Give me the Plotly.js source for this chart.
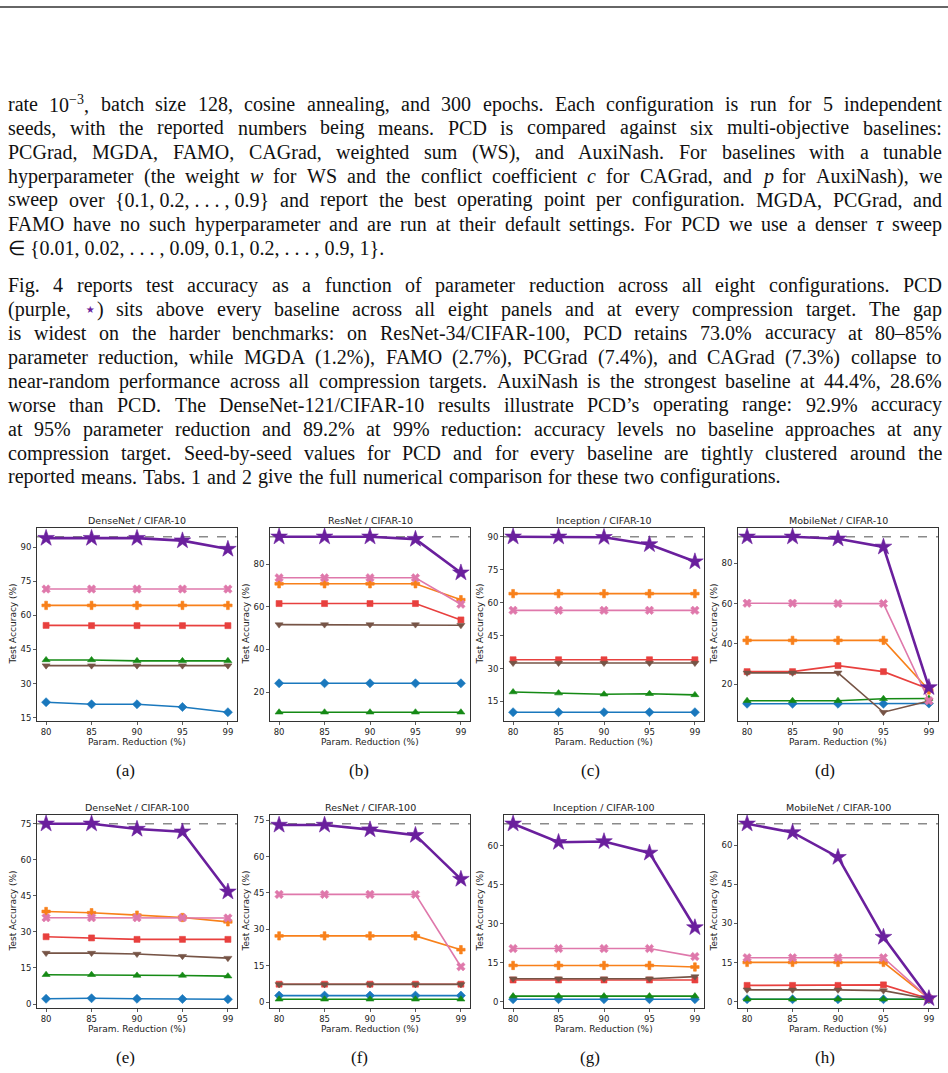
<!DOCTYPE html>
<html><head><meta charset="utf-8">
<script src="https://cdn.plot.ly/plotly-3.0.1.min.js"></script>
<style>body{margin:0;background:#fff}#chart{width:948px;height:1073px}</style>
</head><body><div id="chart"></div>
<script>
// ---------------- DATA ----------------
const xTicks = ['80', '85', '90', '95', '99'];
const panelTitles = ['DenseNet / CIFAR-10', 'ResNet / CIFAR-10', 'Inception / CIFAR-10', 'MobileNet / CIFAR-10',
                     'DenseNet / CIFAR-100', 'ResNet / CIFAR-100', 'Inception / CIFAR-100', 'MobileNet / CIFAR-100'];
const panelLetters = ['(a)', '(b)', '(c)', '(d)', '(e)', '(f)', '(g)', '(h)'];
const yTickStep = [15, 20, 15, 20, 15, 15, 15, 15];
const xTitle = 'Param. Reduction (%)';
const yTitle = 'Test Accuracy (%)';

// one row per panel (a..h), one value per parameter reduction
const FAMO = [
  [21.8, 20.9, 20.9, 19.7, 17.4],
  [24.1, 24.1, 24.1, 24.1, 24.1],
  [10.1, 10.1, 10.1, 10.1, 10.1],
  [10.4, 10.4, 10.4, 10.4, 10.5],
  [2.2, 2.4, 2.2, 2.1, 2.0],
  [2.7, 2.7, 2.7, 2.7, 2.7],
  [1.0, 1.0, 1.0, 1.0, 1.0],
  [1.0, 1.0, 1.0, 1.0, 1.0]
];
const MGDA = [
  [40.4, 40.4, 40.0, 40.0, 40.0],
  [10.5, 10.5, 10.5, 10.5, 10.5],
  [19.3, 18.8, 18.3, 18.5, 18.0],
  [11.9, 11.9, 11.9, 12.9, 13.0],
  [12.2, 12.2, 11.9, 11.9, 11.6],
  [1.2, 1.2, 1.2, 1.2, 1.2],
  [2.2, 2.2, 2.2, 2.2, 2.2],
  [1.0, 1.0, 1.0, 1.0, 1.0]
];
const PCGrad = [
  [55.6, 55.5, 55.5, 55.5, 55.5],
  [61.6, 61.6, 61.6, 61.6, 53.9],
  [34.0, 34.0, 34.0, 34.0, 34.0],
  [26.3, 26.3, 29.3, 26.3, 17.7],
  [28.0, 27.5, 26.9, 26.9, 26.9],
  [7.4, 7.4, 7.4, 7.4, 7.4],
  [8.4, 8.4, 8.4, 8.4, 8.4],
  [6.3, 6.3, 6.3, 6.5, 1.2]
];
const CAGrad = [
  [37.9, 37.9, 37.9, 37.9, 37.9],
  [51.7, 51.7, 51.7, 51.7, 51.4],
  [32.5, 32.5, 32.5, 32.5, 32.5],
  [25.7, 25.7, 25.7, 6.2, 11.8],
  [21.2, 21.2, 20.8, 19.9, 19.1],
  [7.3, 7.3, 7.3, 7.3, 7.3],
  [8.9, 8.9, 8.9, 8.9, 9.7],
  [4.6, 4.6, 4.6, 4.3, 1.1]
];
const WS = [
  [64.4, 64.4, 64.4, 64.4, 64.4],
  [70.9, 70.9, 70.9, 70.9, 63.4],
  [64.1, 64.1, 64.1, 64.1, 64.1],
  [41.8, 41.8, 41.8, 41.8, 17.2],
  [38.5, 38.0, 37.0, 36.0, 34.2],
  [27.3, 27.3, 27.3, 27.3, 21.6],
  [14.0, 14.0, 14.0, 14.0, 13.4],
  [15.1, 15.1, 15.1, 15.1, 1.3]
];
const AuxiNash = [
  [71.6, 71.6, 71.6, 71.6, 71.6],
  [73.7, 73.7, 73.7, 73.7, 61.3],
  [56.5, 56.5, 56.5, 56.5, 56.5],
  [60.2, 60.2, 60.0, 60.0, 11.9],
  [35.9, 35.9, 35.9, 35.9, 35.8],
  [44.4, 44.4, 44.4, 44.4, 14.6],
  [20.5, 20.5, 20.5, 20.5, 17.4],
  [16.9, 16.9, 16.9, 16.9, 1.3]
];
const PCD = [
  [94.0, 94.0, 94.0, 92.9, 89.2],
  [93.0, 93.0, 93.0, 91.9, 76.1],
  [90.0, 90.0, 89.8, 86.5, 78.7],
  [93.1, 93.1, 92.1, 88.1, 18.5],
  [75.0, 75.0, 72.8, 71.7, 46.7],
  [73.0, 73.0, 71.1, 68.8, 50.7],
  [68.5, 61.4, 61.7, 57.3, 28.6],
  [68.2, 64.9, 55.4, 24.8, 1.3]
];
const denseAccuracy = [94.6, 93.0, 90.0, 93.1, 75.0, 73.5, 68.5, 68.2];

// ---------------- STYLE ----------------
const methods = [
  {name: 'FAMO', data: FAMO, color: '#1a78bd', symbol: 'diamond', size: 7, lw: 1.6},
  {name: 'MGDA', data: MGDA, color: '#158a15', symbol: 'triangle-up', size: 7, lw: 1.6},
  {name: 'PCGrad', data: PCGrad, color: '#e8403e', symbol: 'square', size: 6, lw: 1.6},
  {name: 'CAGrad', data: CAGrad, color: '#765446', symbol: 'triangle-down', size: 7, lw: 1.6},
  {name: 'WS', data: WS, color: '#f8801a', symbol: 'cross', size: 7, lw: 1.6},
  {name: 'AuxiNash', data: AuxiNash, color: '#df78ab', symbol: 'x', size: 7.5, lw: 1.6},
  {name: 'PCD', data: PCD, color: '#6a1f9d', symbol: 'star', size: 12.5, lw: 2.6}
];

const W = 948, H = 1073;
const px = x => x / W;
const py = y => 1 - y / H;
const colX = [[37, 237], [270, 470], [504, 704], [738, 938]];
const rowY = [[528, 721], [815, 1008]];
const captionX = [125, 359, 590, 825];
const captionY = [770, 1057];
const SANS = 'DejaVu Sans';

const traces = [];
const layout = {
  width: W, height: H, margin: {l: 0, r: 0, t: 0, b: 0},
  paper_bgcolor: '#fff', plot_bgcolor: '#fff', showlegend: false,
  font: {family: SANS, color: '#222'},
  shapes: [], annotations: []
};
function note(text, x, y, opts) {
  layout.annotations.push(Object.assign({
    text: text, xref: 'paper', yref: 'paper', x: px(x), y: py(y),
    xanchor: 'center', yanchor: 'middle', showarrow: false, borderpad: 0,
    font: {size: 9, family: SANS, color: '#222'}
  }, opts || {}));
}

for (let p = 0; p < 8; p++) {
  const r = Math.floor(p / 4), c = p % 4;
  const ax = p === 0 ? '' : String(p + 1);
  const xs = xTicks.map((_, i) => i);
  methods.forEach(m => {
    traces.push({
      type: 'scatter', mode: 'lines+markers', name: m.name,
      x: xs, y: m.data[p], xaxis: 'x' + ax, yaxis: 'y' + ax,
      line: {color: m.color, width: m.lw},
      marker: {symbol: m.symbol, size: m.size, color: m.color, line: {width: 0.6, color: m.color}},
      cliponaxis: false, hoverinfo: 'y'
    });
  });
  let vals = [denseAccuracy[p]];
  methods.forEach(m => { vals = vals.concat(m.data[p]); });
  const lo = Math.min(...vals), hi = Math.max(...vals), pad = (hi - lo) * 0.05;
  const axCommon = {
    showline: true, mirror: true, linecolor: '#333', linewidth: 1,
    ticks: 'outside', ticklen: 3, tickwidth: 0.8, tickcolor: '#333',
    showgrid: false, zeroline: false, tickfont: {size: 8.5, family: SANS, color: '#222'},
    fixedrange: true
  };
  layout['xaxis' + ax] = Object.assign({}, axCommon, {
    domain: [px(colX[c][0]), px(colX[c][1])], anchor: 'y' + ax,
    range: [-0.2, 4.2], tickmode: 'array', tickvals: xs, ticktext: xTicks
  });
  layout['yaxis' + ax] = Object.assign({}, axCommon, {
    domain: [py(rowY[r][1]), py(rowY[r][0])], anchor: 'x' + ax,
    range: [lo - pad, hi + pad], tick0: 0, dtick: yTickStep[p]
  });
  layout.shapes.push({
    type: 'line', xref: 'x' + ax + ' domain', yref: 'y' + ax, x0: 0, x1: 1,
    y0: denseAccuracy[p], y1: denseAccuracy[p], layer: 'below',
    line: {color: '#8a8a8a', width: 1.3, dash: 'dash'}
  });
  const cx = (colX[c][0] + colX[c][1]) / 2;
  note(panelTitles[p], cx, rowY[r][0] - 8, {font: {size: 9.5, family: SANS, color: '#222'}});
  note(xTitle, cx, rowY[r][1] + 21);
  note(yTitle, colX[c][0] - 25, (rowY[r][0] + rowY[r][1]) / 2, {textangle: -90});
  note(panelLetters[p], captionX[c], captionY[r], {font: {size: 17, family: 'Liberation Serif', color: '#111'}});
}

// top rule
layout.shapes.push({type: 'line', xref: 'paper', yref: 'paper', x0: 0, x1: 1, y0: py(7), y1: py(7),
  line: {color: '#333', width: 1.5}});

// ---------------- BODY TEXT (justified word by word) ----------------
const para1 = [
  'rate 10<sup>−3</sup>, batch size 128, cosine annealing, and 300 epochs. Each configuration is run for 5 independent',
  'seeds, with the reported numbers being means. PCD is compared against six multi-objective baselines:',
  'PCGrad, MGDA, FAMO, CAGrad, weighted sum (WS), and AuxiNash. For baselines with a tunable',
  'hyperparameter (the weight <i>w</i> for WS and the conflict coefficient <i>c</i> for CAGrad, and <i>p</i> for AuxiNash), we',
  'sweep over {0.1,~0.2,~.~.~.~,~0.9} and report the best operating point per configuration. MGDA, PCGrad, and',
  'FAMO have no such hyperparameter and are run at their default settings. For PCD we use a denser <i>τ</i> sweep',
  '∈~{0.01,~0.02,~.~.~.~,~0.09,~0.1,~0.2,~.~.~.~,~0.9,~1}.'
];
const para2 = [
  'Fig. 4 reports test accuracy as a function of parameter reduction across all eight configurations. PCD',
  '(purple, <span~style="color:#6a1f9d">⋆</span>) sits above every baseline across all eight panels and at every compression target. The gap',
  'is widest on the harder benchmarks: on ResNet-34/CIFAR-100, PCD retains 73.0% accuracy at 80–85%',
  'parameter reduction, while MGDA (1.2%), FAMO (2.7%), PCGrad (7.4%), and CAGrad (7.3%) collapse to',
  'near-random performance across all compression targets. AuxiNash is the strongest baseline at 44.4%, 28.6%',
  'worse than PCD. The DenseNet-121/CIFAR-10 results illustrate PCD’s operating range: 92.9% accuracy',
  'at 95% parameter reduction and 89.2% at 99% reduction: accuracy levels no baseline approaches at any',
  'compression target. Seed-by-seed values for PCD and for every baseline are tightly clustered around the',
  'reported means. Tabs. 1 and 2 give the full numerical comparison for these two configurations.'
];
const FS = 20, FONT = 'Liberation Serif', LEFT = 7, RIGHT = 941, LINE = 24;
const ctx = document.createElement('canvas').getContext('2d');
function measure(word) {
  let w = 0;
  const re = /<(sup|i|span)[^>]*>(.*?)<\/\1>/g;
  let last = 0, m;
  const plain = s => { ctx.font = FS + 'px "' + FONT + '"'; return ctx.measureText(s).width; };
  while ((m = re.exec(word)) !== null) {
    w += plain(word.slice(last, m.index));
    if (m[1] === 'sup') { ctx.font = (FS * 0.7) + 'px "' + FONT + '"'; w += ctx.measureText(m[2]).width; }
    else if (m[1] === 'i') { ctx.font = 'italic ' + FS + 'px "' + FONT + '"'; w += ctx.measureText(m[2]).width; }
    else w += plain(m[2]);
    last = m.index + m[0].length;
  }
  w += plain(word.slice(last));
  return w;
}
function placeParagraph(lines, y0) {
  lines.forEach((line, li) => {
    const words = line.split(' ').map(s => s.replace(/~/g, ' '));
    const widths = words.map(measure);
    const total = widths.reduce((a, b) => a + b, 0);
    const isLast = li === lines.length - 1;
    const gap = isLast ? measure(' ') * 1.2 : (RIGHT - LEFT - total) / (words.length - 1);
    let x = LEFT;
    const y = y0 + li * LINE;
    words.forEach((w, i) => {
      note(w, x, y, {xanchor: 'left', font: {size: FS, family: FONT, color: '#111'}});
      x += widths[i] + gap;
    });
  });
}
placeParagraph(para1, 104);
placeParagraph(para2, 285);

Plotly.newPlot('chart', traces, layout, {staticPlot: true, displayModeBar: false});
</script>
</body></html>
